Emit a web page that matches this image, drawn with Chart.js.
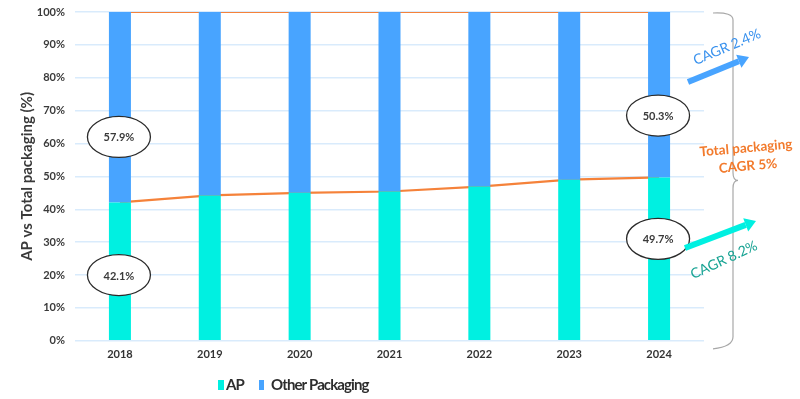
<!DOCTYPE html>
<html>
<head>
<meta charset="utf-8">
<script src="https://cdn.jsdelivr.net/npm/chart.js@4.4.1/dist/chart.umd.min.js"></script>
<style>
  html, body { margin: 0; padding: 0; background: #fff; }
  #wrap { width: 800px; height: 399px; }
</style>
</head>
<body>
<div id="wrap"><canvas id="grafico" width="800" height="399"></canvas></div>
<script>
// Datos
const years = ['2018', '2019', '2020', '2021', '2022', '2023', '2024'];
const apShare = [42.1, 44.2, 45.0, 45.4, 46.9, 49.0, 49.7];
const otherShare = [57.9, 55.8, 55.0, 54.6, 53.1, 51.0, 50.3];
const totalShare = [100, 100, 100, 100, 100, 100, 100];
const yTicks = [0, 10, 20, 30, 40, 50, 60, 70, 80, 90, 100];

// Etiquetas en elipses: [indice del año, valor y, texto]
const callouts = [
    [0, 62, '57.9%'],
    [0, 20, '42.1%'],
    [6, 68.5, '50.3%'],
    [6, 31, '49.7%']
];

const colorAP = '#00F0E1';
const colorOther = '#48A4FF';
const colorLinea = '#F5823A';
const fuente = 'Lato, "DejaVu Sans", sans-serif';

function flecha(ctx, x1, y1, x2, y2, color) {
    const ang = Math.atan2(y2 - y1, x2 - x1);
    const largo = 11;
    const bx = x2 - Math.cos(ang) * largo;
    const by = y2 - Math.sin(ang) * largo;
    ctx.save();
    ctx.strokeStyle = color;
    ctx.fillStyle = color;
    ctx.lineWidth = 6;
    ctx.beginPath();
    ctx.moveTo(x1, y1);
    ctx.lineTo(bx, by);
    ctx.stroke();
    ctx.beginPath();
    ctx.moveTo(x2, y2);
    ctx.lineTo(bx + Math.sin(ang) * 7, by - Math.cos(ang) * 7);
    ctx.lineTo(bx - Math.sin(ang) * 7, by + Math.cos(ang) * 7);
    ctx.closePath();
    ctx.fill();
    ctx.restore();
}

function textoRotado(ctx, txt, x, y, ang, color, font) {
    ctx.save();
    ctx.translate(x, y);
    ctx.rotate(ang * Math.PI / 180);
    ctx.fillStyle = color;
    ctx.font = font;
    ctx.textAlign = 'center';
    ctx.textBaseline = 'middle';
    ctx.fillText(txt, 0, 0);
    ctx.restore();
}

// Plugin para elipses, flechas, llave y leyenda
const anotaciones = {
    id: 'anotaciones',
    afterDraw(chart) {
        const ctx = chart.ctx;
        const xs = chart.scales.x;
        const ys = chart.scales.y;
        const area = chart.chartArea;

        // Elipses
        callouts.forEach(([i, v, txt]) => {
            const cx = xs.getPixelForValue(i) - 1;
            const cy = ys.getPixelForValue(v);
            ctx.save();
            ctx.beginPath();
            ctx.ellipse(cx, cy, 31.5, 20.5, 0, 0, Math.PI * 2);
            ctx.fillStyle = '#fff';
            ctx.fill();
            ctx.lineWidth = 1.3;
            ctx.strokeStyle = '#2a2a2a';
            ctx.stroke();
            ctx.fillStyle = '#3a3a3a';
            ctx.font = 'bold 11px ' + fuente;
            ctx.textAlign = 'center';
            ctx.textBaseline = 'middle';
            ctx.fillText(txt, cx, cy + 1);
            ctx.restore();
        });

        // Llave a la derecha
        const bx = area.right + 29;
        const top = ys.getPixelForValue(100);
        const bot = ys.getPixelForValue(0) + 4;
        const mid = ys.getPixelForValue(50) + 4;
        ctx.save();
        ctx.strokeStyle = '#a8a8a8';
        ctx.lineWidth = 1.2;
        ctx.beginPath();
        ctx.moveTo(bx - 20, top + 1);
        ctx.quadraticCurveTo(bx, top, bx, top + 8);
        ctx.lineTo(bx, mid - 8);
        ctx.quadraticCurveTo(bx, mid, bx + 5, mid);
        ctx.quadraticCurveTo(bx, mid, bx, mid + 8);
        ctx.lineTo(bx, bot - 8);
        ctx.quadraticCurveTo(bx, bot + 2, bx - 20, bot + 4);
        ctx.stroke();
        ctx.restore();

        // Flechas y textos de CAGR
        flecha(ctx, area.right - 16, 82, area.right + 45, 57, colorOther);
        flecha(ctx, area.right - 19, 248, area.right + 52, 221, colorAP);
        textoRotado(ctx, 'CAGR 2.4%', area.right + 23, 47, -23, '#3A92EE', '14px ' + fuente);
        textoRotado(ctx, 'CAGR 8.2%', area.right + 20, 260, -25, '#17A393', '14px ' + fuente);
        textoRotado(ctx, 'Total packaging', area.right + 42, 148, -5, '#F27A2C', 'bold 13.5px ' + fuente);
        textoRotado(ctx, 'CAGR 5%', area.right + 44, 166, -5, '#F27A2C', 'bold 13.5px ' + fuente);

        // Leyenda
        const ly = 385;
        ctx.save();
        ctx.font = 'bold 15px ' + fuente;
        ctx.letterSpacing = '-0.9px';
        ctx.textBaseline = 'middle';
        ctx.fillStyle = colorAP;
        ctx.fillRect(218, ly - 5, 6, 10);
        ctx.fillStyle = '#2e2e2e';
        ctx.fillText('AP', 226, ly);
        ctx.fillStyle = colorOther;
        ctx.fillRect(259, ly - 5, 5, 10);
        ctx.fillStyle = '#2e2e2e';
        ctx.fillText('Other Packaging', 271, ly);
        ctx.restore();
    }
};

new Chart(document.getElementById('grafico').getContext('2d'), {
    data: {
        labels: years,
        datasets: [
            {
                type: 'bar',
                label: 'AP',
                data: apShare,
                backgroundColor: colorAP,
                stack: 'barras',
                order: 0,
                categoryPercentage: 1,
                barPercentage: 0.245
            },
            {
                type: 'bar',
                label: 'Other Packaging',
                data: otherShare,
                backgroundColor: colorOther,
                stack: 'barras',
                order: 0,
                categoryPercentage: 1,
                barPercentage: 0.245
            },
            {
                type: 'line',
                label: 'AP linea',
                data: apShare,
                borderColor: colorLinea,
                borderWidth: 2.2,
                pointRadius: 0,
                stack: 'l1',
                order: 1
            },
            {
                type: 'line',
                label: 'Total',
                data: totalShare,
                borderColor: colorLinea,
                borderWidth: 2.2,
                pointRadius: 0,
                stack: 'l2',
                order: 1
            }
        ]
    },
    options: {
        responsive: false,
        animation: false,
        layout: {
            padding: { left: 0, right: 96, top: 0, bottom: 31 }
        },
        scales: {
            x: {
                stacked: true,
                grid: { display: false, drawTicks: false },
                border: { display: false },
                ticks: {
                    color: '#333',
                    padding: 7,
                    font: { family: fuente, size: 11, weight: 'bold' }
                }
            },
            y: {
                stacked: true,
                min: 0,
                max: 100,
                afterBuildTicks: (axis) => { axis.ticks = yTicks.map(v => ({ value: v })); },
                afterFit: (axis) => {
                    axis.width = 75;
                    axis.paddingTop = 12;
                    axis.paddingBottom = 0;
                },
                grid: { color: '#D9EBFC', lineWidth: 1.5, drawTicks: false },
                border: { display: false },
                ticks: {
                    color: '#3a3a3a',
                    padding: 10,
                    font: { family: fuente, size: 11, weight: 'bold' },
                    callback: (v) => v + '%'
                },
                title: {
                    display: true,
                    text: 'AP vs Total packaging (%)',
                    color: '#3a3a3a',
                    padding: { top: 18, bottom: 0 },
                    font: { family: fuente, size: 15, weight: 'bold' }
                }
            }
        },
        plugins: {
            legend: { display: false },
            tooltip: { enabled: false }
        }
    },
    plugins: [anotaciones]
});
</script>
</body>
</html>
